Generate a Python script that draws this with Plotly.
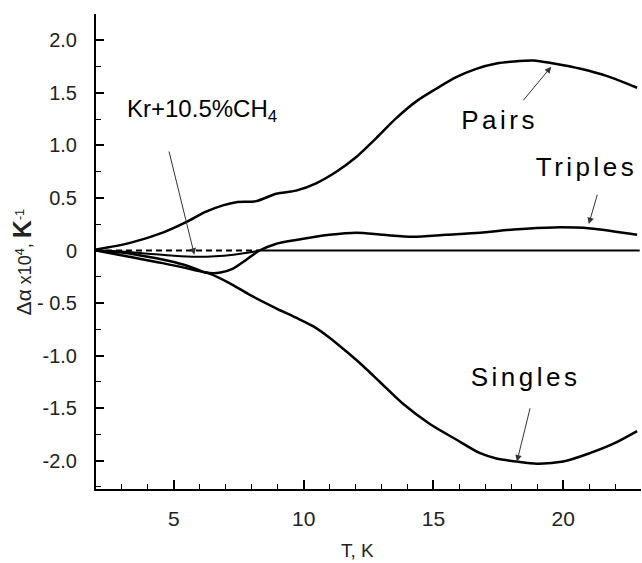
import plotly.graph_objects as go

# ---- data ----
pairs_T = [2, 3.28, 4.57, 5.47, 6.24, 6.89, 7.40, 8.17, 8.94, 9.71, 10.48, 11.26, 12.03, 12.80,
           13.57, 14.34, 15.11, 15.88, 16.65, 17.43, 18.09, 18.86, 19.64, 20.67, 21.7, 22.85]
pairs_v = [0.01, 0.07, 0.17, 0.27, 0.37, 0.43, 0.46, 0.47, 0.54, 0.57, 0.64, 0.75, 0.89, 1.07,
           1.26, 1.42, 1.54, 1.65, 1.73, 1.78, 1.80, 1.81, 1.78, 1.73, 1.66, 1.55]

triples_T = [2, 3, 4, 5, 5.8, 6.24, 6.8, 7.3, 7.78, 8.3, 8.9, 9.71, 11.0, 12.03, 13.06, 14.2,
             15.5, 16.8, 18.09, 19.64, 21.05, 22.85]
triples_v = [0, -0.02, -0.06, -0.11, -0.17, -0.21, -0.21, -0.17, -0.09, 0.0, 0.06, 0.10, 0.15,
             0.17, 0.15, 0.13, 0.15, 0.17, 0.20, 0.22, 0.21, 0.15]

singles_T = [2, 3.28, 4.57, 5.86, 6.37, 7.14, 7.91, 8.94, 9.71, 10.36, 11.0, 11.64, 12.29, 12.93,
             13.83, 14.85, 15.88, 16.8, 17.43, 18.22, 18.99, 20.0, 21.03, 21.94, 22.85]
singles_v = [0, -0.06, -0.12, -0.19, -0.22, -0.31, -0.42, -0.55, -0.64, -0.72, -0.83, -0.96, -1.10,
             -1.25, -1.46, -1.65, -1.80, -1.93, -1.98, -2.01, -2.03, -2.01, -1.93, -1.84, -1.72]

kr_T = [2, 3, 4, 5, 5.86, 6.6, 7.3, 7.9, 8.3]
kr_v = [0, -0.01, -0.03, -0.05, -0.06, -0.055, -0.04, -0.02, 0]

zero_dash_T = [2, 8.3]
zero_dash_v = [0, 0]
zero_solid_T = [8.3, 22.95]
zero_solid_v = [0, 0]

y_tickvals = [-2.0, -1.5, -1.0, -0.5, 0, 0.5, 1.0, 1.5, 2.0]
y_ticktext = ["-2.0", "-1.5", "-1.0", "- 0.5", "0", "0.5", "1.0", "1.5", "2.0"]
x_tickvals = [5, 10, 15, 20]

FONT = "Liberation Sans, Arial, sans-serif"

fig = go.Figure()

def curve(T, v, width=2.5, dash="solid", shape="spline"):
    fig.add_trace(go.Scatter(x=T, y=v, mode="lines",
                             line=dict(color="black", width=width, dash=dash,
                                       shape=shape, smoothing=0.8),
                             hoverinfo="skip", showlegend=False))

curve(zero_dash_T, zero_dash_v, width=2, dash="6px,4px", shape="linear")
curve(zero_solid_T, zero_solid_v, width=2, shape="linear")
curve(kr_T, kr_v, width=2)
curve(triples_T, triples_v)
curve(singles_T, singles_v)
curve(pairs_T, pairs_v)

def arrow(tip, tail):
    fig.add_annotation(x=tip[0], y=tip[1], ax=tail[0], ay=tail[1],
                       xref="x", yref="y", axref="x", ayref="y", text="",
                       showarrow=True, arrowhead=2, arrowsize=1.3, arrowwidth=1,
                       arrowcolor="#333", standoff=0, startstandoff=0)

arrow((5.79, -0.04), (4.80, 0.957))
arrow((19.54, 1.75), (18.42, 1.417))
arrow((20.99, 0.252), (21.33, 0.545))
arrow((18.22, -2.01), (18.74, -1.488))

def label(text, x, y, size=26, xanchor="center"):
    fig.add_annotation(x=x, y=y, xref="x", yref="y", text=text, showarrow=False,
                       xanchor=xanchor, yanchor="middle",
                       font=dict(family=FONT, size=size, color="black"))

label("Kr+10.5%CH<sub>4</sub>", 3.12, 1.33, size=24, xanchor="left")
label("Pairs", 17.54, 1.24)
label("Triples", 20.90, 0.795)
label("Singles", 18.55, -1.20)

# axis titles
fig.add_annotation(xref="paper", yref="paper", x=-0.135, y=0.478, textangle=-90,
                   xanchor="center", yanchor="middle", showarrow=False,
                   text="<span style='font-size:21px'>Δα</span> x10<sup>4</sup>, "
                        "<span style='font-size:25px'><b>K</b></span><sup>-1</sup>",
                   font=dict(family=FONT, size=18, color="#222"))
fig.add_annotation(xref="paper", yref="paper", x=0.479, y=-0.13,
                   xanchor="center", yanchor="middle", showarrow=False,
                   text="T, K", font=dict(family=FONT, size=19, color="#222"))

fig.update_xaxes(range=[2, 23], showline=True, linecolor="black", linewidth=2,
                 ticks="inside", ticklen=9, tickwidth=1.5, tickcolor="black",
                 tickvals=x_tickvals, ticklabelstandoff=10,
                 minor=dict(ticks="inside", ticklen=5, tickwidth=1.2, tickcolor="black", dtick=1, tick0=0),
                 showgrid=False, zeroline=False,
                 tickfont=dict(family=FONT, size=21, color="#222"))
fig.update_yaxes(range=[-2.271, 2.252], showline=True, linecolor="black", linewidth=2,
                 ticks="inside", ticklen=8, tickwidth=1.5, tickcolor="black",
                 tickvals=y_tickvals, ticktext=y_ticktext, ticklabelstandoff=13,
                 minor=dict(ticks="inside", ticklen=5, tickwidth=1.2, tickcolor="black", dtick=0.25, tick0=0),
                 showgrid=False, zeroline=False,
                 tickfont=dict(family=FONT, size=20, color="#222"))

fig.update_layout(width=642, height=563, autosize=False,
                  margin=dict(l=96, r=1, t=14, b=74),
                  paper_bgcolor="white", plot_bgcolor="white",
                  showlegend=False)

post = """
document.body.style.margin = '0';
document.body.style.padding = '0';
var gd = document.getElementById('{plot_id}');
function ls(){
  gd.querySelectorAll('.annotation-text').forEach(function(t){
    var s = t.textContent;
    if (s === 'Pairs' || s === 'Triples' || s === 'Singles') { t.style.letterSpacing = '3.5px'; }
  });
}
ls();
if (gd.on) { gd.on('plotly_afterplot', ls); }
"""
fig.write_html("out.html", post_script=post, config={"displayModeBar": False})
